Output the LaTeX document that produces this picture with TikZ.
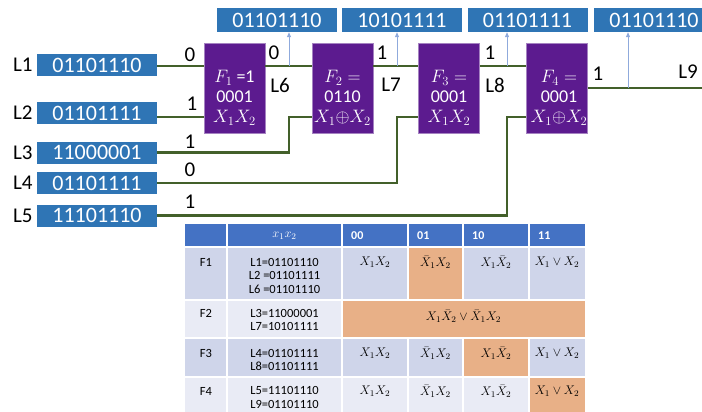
\RequirePackage{fix-cm}
\documentclass[tikz,border=0pt]{standalone}
\usepackage{fontspec}
\setmainfont{Carlito}
\usetikzlibrary{positioning,arrows.meta}

\begin{document}
\begin{tikzpicture}[x=1pt,y=-1pt,
  inBox/.style={fill=colBox, text=white, minimum width=120pt, minimum height=22pt,
    inner sep=0pt, font=\fontsize{22}{24}\selectfont},
  outBox/.style={inBox, minimum height=24pt},
  fBlock/.style={fill=colF, draw=colF!55!white, line width=0.6pt,
    minimum width=61pt, minimum height=90pt, inner sep=0pt},
  fText/.style={text=white, align=center, inner sep=0pt, font=\fontsize{18}{20}\selectfont},
  wire/.style={draw=colWire, line width=2.2pt},
  tapLine/.style={draw=colTap, line width=0.8pt, -{Triangle[length=5pt,width=4pt]}},
  lbl/.style={inner sep=0pt, font=\fontsize{21}{24}\selectfont},
  gridLine/.style={white, line width=1.6pt},
  hdr/.style={anchor=west, text=white, inner sep=0pt, font=\fontsize{12}{14}\bfseries},
  cell/.style={inner sep=0pt, align=center, font=\fontsize{12.5}{13.5}\selectfont}]

% Colori
\definecolor{colBox}{HTML}{2F75B5}
\definecolor{colF}{HTML}{5C1B8F}
\definecolor{colWire}{HTML}{43602A}
\definecolor{colTap}{HTML}{8FAADC}
\definecolor{colHead}{HTML}{4472C4}
\definecolor{colRowA}{HTML}{CFD5EA}
\definecolor{colRowB}{HTML}{E9EBF5}
\definecolor{colHi}{HTML}{E8B087}

\useasboundingbox (0,0) rectangle (702,412);
\clip (0,0) rectangle (702,412);

% Blocchi funzionali
\node[fBlock] (f1) at (234.5,88) {};
\node[fBlock] (f2) at (342.5,88) {};
\node[fBlock] (f3) at (449,88) {};
\node[fBlock] (f4) at (557,88) {};
\node[fText] (f1t) at (234.5,98) {$F_1$ =1\\0001\\$X_1X_2$};
\node[fText] (f2t) at (342.5,98) {$F_2 =$\\0110\\$X_1{\oplus}X_2$};
\node[fText] (f3t) at (449,98) {$F_3 =$\\0001\\$X_1X_2$};
\node[fText] (f4t) at (559,98) {$F_4 =$\\0001\\$X_1{\oplus}X_2$};

% Porte di ingresso
\coordinate (f1a) at ([yshift=22pt]f1.west);
\coordinate (f1b) at ([yshift=-29pt]f1.west);
\coordinate (f2a) at ([yshift=22pt]f2.west);
\coordinate (f2b) at ([yshift=-29pt]f2.west);
\coordinate (f3a) at ([yshift=22pt]f3.west);
\coordinate (f3b) at ([yshift=-29pt]f3.west);
\coordinate (f4a) at ([yshift=22pt]f4.west);
\coordinate (f4b) at ([yshift=-29pt]f4.west);

% Ingressi
\node[inBox] (in1) at (97,65) {01101110};
\node[inBox] (in2) at (97,113) {01101111};
\node[inBox] (in3) at (97,152.5) {11000001};
\node[inBox] (in4) at (97,183) {01101111};
\node[inBox] (in5) at (97,215.5) {11101110};
\node[lbl, left=4pt of in1] (n1) {L1};
\node[lbl, left=4pt of in2] (n2) {L2};
\node[lbl, left=4pt of in3] (n3) {L3};
\node[lbl, left=4pt of in4] (n4) {L4};
\node[lbl, left=4pt of in5] (n5) {L5};

% Uscite
\node[outBox] (o1) at (277,20) {01101110};
\node[outBox] (o2) at (402,20) {10101111};
\node[outBox] (o3) at (527.5,20) {01101111};
\node[outBox] (o4) at (654,20) {01101110};

\coordinate (tap1) at (289,66);
\coordinate (tap2) at (397,66);
\coordinate (tap3) at (507,66);
\coordinate (tap4) at (628,88);
\coordinate (l9) at (702,88);

% Linee
\draw[wire] (in1.east |- f1a) -- (f1a);
\draw[wire] (in2.east |- f1b) -- (f1b);
\draw[wire] (in3.east) -| (f2b -| tap1) -- (f2b);
\draw[wire] (in4.east) -| (f3b -| tap2) -- (f3b);
\draw[wire] (in5.east) -| (f4b -| tap3) -- (f4b);
\draw[wire] (f1.east |- f2a) -- (f2a);
\draw[wire] (f2.east |- f3a) -- (f3a);
\draw[wire] (f3.east |- f4a) -- (f4a);
\draw[wire] (f4.east) -- (l9);

\draw[tapLine] (tap1) -- (tap1 |- o1.south);
\draw[tapLine] (tap2) -- (tap2 |- o2.south);
\draw[tapLine] (tap3) -- (tap3 |- o3.south);
\draw[tapLine] (tap4) -- (tap4 |- o4.south);

% Valori sui fili
\node[lbl] (v1) at (190,55) {0};
\node[lbl] (v2) at (192,104) {1};
\node[lbl] (v3) at (190,142) {1};
\node[lbl] (v4) at (190,170) {0};
\node[lbl] (v5) at (190,202) {1};
\node[lbl] (v6) at (274,53) {0};
\node[lbl] (v7) at (382,53) {1};
\node[lbl] (v8) at (490,53) {1};
\node[lbl] (v9) at (598,74) {1};
\node[lbl] (n6) at (280,85) {L6};
\node[lbl] (n7) at (391,85) {L7};
\node[lbl] (n8) at (495,85) {L8};
\node[lbl] (n9) at (688,72) {L9};

% Tabella
\fill[colHead] (185,224) rectangle (585,247);
\fill[colRowA] (185,247) rectangle (585,300);
\fill[colRowB] (185,300) rectangle (585,338);
\fill[colRowA] (185,338) rectangle (585,377);
\fill[colRowB] (185,377) rectangle (585,412);
\fill[colHi] (408,247) rectangle (463,300);
\fill[colHi] (342,300) rectangle (585,338);
\fill[colHi] (463,338) rectangle (529,377);
\fill[colHi] (529,377) rectangle (585,412);
\foreach \y in {247,300,338,377} \draw[gridLine] (185,\y) -- (585,\y);
\foreach \x in {227,342} \draw[gridLine] (\x,224) -- (\x,412);
\foreach \x in {408,463,529} {
  \draw[gridLine] (\x,224) -- (\x,300);
  \draw[gridLine] (\x,338) -- (\x,412);
}

\node[cell, text=white] (h0) at (284.5,236) {$x_1x_2$};
\node[hdr] (h1) at (351,236) {00};
\node[hdr] (h2) at (417,236) {01};
\node[hdr] (h3) at (472,236) {10};
\node[hdr] (h4) at (538,236) {11};

\node[cell] (r1) at (206,262) {F1};
\node[cell] (r2) at (206,313) {F2};
\node[cell] (r3) at (206,353) {F3};
\node[cell] (r4) at (206,391) {F4};

\node[cell] (s1) at (284.5,275.5) {L1=01101110\\L2 =01101111\\L6 =01101110};
\node[cell] (s2) at (284.5,320) {L3=11000001\\L7=10101111};
\node[cell] (s3) at (284.5,360) {L4=01101111\\L8=01101111};
\node[cell] (s4) at (284.5,397.5) {L5=11101110\\L9=01101110};

\node[cell] (c11) at (375,262) {$X_1X_2$};
\node[cell] (c12) at (435.5,262) {$\bar{X}_1X_2$};
\node[cell] (c13) at (496,262) {$X_1\bar{X}_2$};
\node[cell] (c14) at (557,262) {$X_1 \vee X_2$};
\node[cell] (c2) at (463.5,316) {$X_1\bar{X}_2 \vee \bar{X}_1X_2$};
\node[cell] (c31) at (375,353) {$X_1X_2$};
\node[cell] (c32) at (435.5,353) {$\bar{X}_1X_2$};
\node[cell] (c33) at (496,353) {$X_1\bar{X}_2$};
\node[cell] (c34) at (557,353) {$X_1 \vee X_2$};
\node[cell] (c41) at (375,391) {$X_1X_2$};
\node[cell] (c42) at (435.5,391) {$\bar{X}_1X_2$};
\node[cell] (c43) at (496,391) {$X_1\bar{X}_2$};
\node[cell] (c44) at (557,391) {$X_1 \vee X_2$};

\end{tikzpicture}
\end{document}
